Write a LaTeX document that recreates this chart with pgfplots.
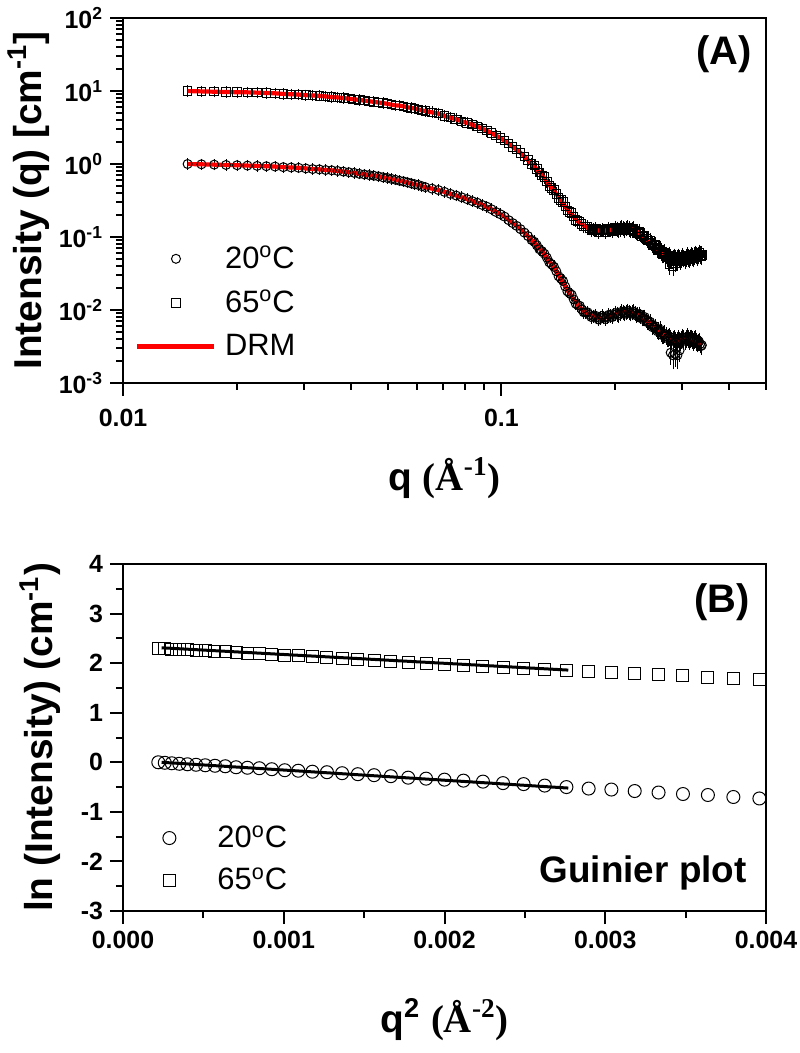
\documentclass[border=0pt]{standalone}
\usepackage{pgfplots}
\usepackage{pgfplotstable}
\pgfplotsset{compat=1.18}
\usepackage{fontspec}
\setmainfont{Liberation Sans}
\newfontfamily\serifb{Liberation Serif}

% SAXS data: q, I(20C), I(65C), relative error
\pgfplotstableread{
q       i20     i65     e
0.01482 1.000   9.974   0.02
0.01612 0.990   9.875   0.02
0.01742 0.980   9.777   0.02
0.01872 0.970   9.679   0.02
0.02002 0.961   9.630   0.02
0.02132 0.951   9.583   0.02
0.02262 0.942   9.488   0.02
0.02392 0.932   9.393   0.02
0.02522 0.923   9.300   0.02
0.02652 0.905   9.116   0.02
0.02782 0.896   9.025   0.02
0.02912 0.887   8.935   0.02
0.03042 0.869   8.758   0.02
0.03172 0.852   8.671   0.02
0.03302 0.844   8.585   0.02
0.03432 0.827   8.415   0.02
0.03562 0.819   8.248   0.02
0.03692 0.803   8.166   0.02
0.03822 0.787   8.004   0.02
0.03952 0.771   7.846   0.02
0.04082 0.756   7.691   0.02
0.04212 0.733   7.538   0.02
0.04342 0.719   7.389   0.02
0.04472 0.705   7.243   0.02
0.04602 0.691   7.099   0.02
0.04732 0.677   6.959   0.02
0.04862 0.657   6.821   0.02
0.04992 0.644   6.686   0.02
0.05122 0.625   6.488   0.02
0.05252 0.607   6.360   0.02
0.05382 0.589   6.297   0.02
0.05512 0.577   6.172   0.02
0.05642 0.560   5.989   0.02
0.05772 0.543   5.871   0.02
0.05902 0.527   5.755   0.02
0.06032 0.517   5.585   0.02
0.06162 0.497   5.419   0.02
0.06292 0.482   5.312   0.02
0.06552 0.460   5.10    0.03
0.06812 0.440   4.90    0.03
0.07072 0.415   4.55    0.03
0.07332 0.390   4.30    0.03
0.07592 0.370   4.10    0.03
0.07852 0.350   3.85    0.03
0.08112 0.330   3.65    0.03
0.08372 0.310   3.45    0.03
0.08632 0.295   3.25    0.03
0.08892 0.275   3.05    0.03
0.09152 0.260   2.85    0.03
0.09412 0.240   2.65    0.03
0.09672 0.220   2.45    0.03
0.09932 0.205   2.28    0.03
0.10192 0.190   2.08    0.03
0.10452 0.170   1.90    0.03
0.10712 0.155   1.72    0.03
0.10972 0.142   1.57    0.03
0.11232 0.128   1.42    0.03
0.11492 0.115   1.27    0.03
0.11752 0.103   1.13    0.03
0.12012 0.091   1.00    0.03
0.12402 0.077   0.85    0.05
0.12792 0.064   0.70    0.05
0.13182 0.052   0.58    0.05
0.13572 0.042   0.47    0.05
0.13962 0.034   0.39    0.05
0.14352 0.027   0.32    0.05
0.14742 0.021   0.26    0.05
0.15132 0.017   0.22    0.05
0.15522 0.0140  0.190   0.05
0.15912 0.0117  0.165   0.05
0.16302 0.0102  0.150   0.05
0.16692 0.0093  0.138   0.05
0.17082 0.0086  0.130   0.05
0.17472 0.0082  0.126   0.05
0.17862 0.0079  0.123   0.05
0.18252 0.0078  0.122   0.05
0.18642 0.0079  0.122   0.05
0.19032 0.0080  0.123   0.05
0.19422 0.0083  0.125   0.05
0.19812 0.0086  0.127   0.05
0.20202 0.0088  0.128   0.08
0.20592 0.0090  0.129   0.08
0.20982 0.0092  0.130   0.08
0.21372 0.0093  0.130   0.08
0.21762 0.0093  0.129   0.08
0.22152 0.0092  0.126   0.08
0.22542 0.0089  0.121   0.08
0.22932 0.0086  0.116   0.08
0.23322 0.0082  0.110   0.08
0.23712 0.0078  0.103   0.08
0.24102 0.0073  0.096   0.08
0.24492 0.0068  0.089   0.08
0.24882 0.0063  0.083   0.08
0.25272 0.0059  0.077   0.08
0.25662 0.0055  0.072   0.08
0.26052 0.0052  0.067   0.12
0.26442 0.0049  0.063   0.12
0.26832 0.0046  0.059   0.12
0.27222 0.0044  0.056   0.12
0.27612 0.0042  0.054   0.12
0.28002 0.0040  0.052   0.12
0.28392 0.0039  0.051   0.12
0.28782 0.0038  0.050   0.12
0.29172 0.0038  0.050   0.12
0.29562 0.0038  0.050   0.12
0.29952 0.0039  0.050   0.12
0.30342 0.0040  0.051   0.12
0.30732 0.0040  0.052   0.12
0.31122 0.0040  0.052   0.12
0.31512 0.0040  0.053   0.12
0.31902 0.0039  0.054   0.12
0.32292 0.0039  0.055   0.12
0.32682 0.0037  0.056   0.12
0.33072 0.0036  0.056   0.12
0.33462 0.0034  0.057   0.12
0.33852 0.0033  0.057   0.12
}\saxs

% further measured points at high q (scattered)
\pgfplotstableread{
q       i20     i65     e
0.12207 0.086   0.95    0.05
0.12597 0.068   0.76    0.05
0.12987 0.059   0.66    0.05
0.13377 0.045   0.50    0.05
0.13767 0.039   0.44    0.05
0.14157 0.029   0.34    0.05
0.14547 0.025   0.30    0.05
0.14937 0.018   0.23    0.05
0.15327 0.0162  0.212   0.05
0.15717 0.0122  0.170   0.05
0.16107 0.0114  0.162   0.05
0.16497 0.0093  0.138   0.05
0.16887 0.0093  0.139   0.05
0.17277 0.0080  0.123   0.05
0.17667 0.0084  0.129   0.05
0.18057 0.0074  0.117   0.05
0.18447 0.0083  0.126   0.05
0.18837 0.0075  0.117   0.05
0.19227 0.0086  0.129   0.05
0.19617 0.0080  0.121   0.05
0.20007 0.0091  0.133   0.08
0.20397 0.0085  0.123   0.08
0.20787 0.0095  0.136   0.08
0.21177 0.0089  0.125   0.08
0.21567 0.0097  0.134   0.08
0.21957 0.0089  0.123   0.08
0.22347 0.0095  0.129   0.08
0.22737 0.0084  0.114   0.08
0.23127 0.0088  0.118   0.08
0.23517 0.0076  0.102   0.08
0.23907 0.0080  0.105   0.08
0.24297 0.0068  0.089   0.08
0.24687 0.0069  0.090   0.08
0.25077 0.0058  0.076   0.08
0.25467 0.0060  0.079   0.08
0.25857 0.0051  0.066   0.08
0.26247 0.0054  0.068   0.12
0.26637 0.0045  0.058   0.12
0.27027 0.0047  0.061   0.12
0.27417 0.0041  0.052   0.12
0.27807 0.0043  0.056   0.12
0.28197 0.0038  0.048   0.12
0.28587 0.0040  0.053   0.12
0.28977 0.0036  0.047   0.12
0.29367 0.0040  0.053   0.12
0.29757 0.0037  0.047   0.12
0.30147 0.0042  0.054   0.12
0.30537 0.0038  0.048   0.12
0.30927 0.0043  0.055   0.12
0.31317 0.0038  0.050   0.12
0.31707 0.0041  0.056   0.12
0.32097 0.0037  0.051   0.12
0.32487 0.0040  0.058   0.12
0.32877 0.0035  0.053   0.12
0.33267 0.0037  0.060   0.12
0.33657 0.0032  0.055   0.12
}\saxsmid

% scattered low points at high q
\pgfplotstableread{
q       i     e
0.2800  0.0026 0.20
0.2839  0.0024 0.25
0.2878  0.0025 0.22
0.2917  0.0024 0.25
0.2956  0.0028 0.20
}\outA
\pgfplotstableread{
q       i     e
0.2780  0.042  0.15
0.2839  0.040  0.15
0.2878  0.044  0.12
}\outB

% Guinier: q^2, ln I(20C), ln I(65C)
\pgfplotstableread{
q2         l20     l65
0.0002196  0.00    2.30
0.0002599  -0.01   2.29
0.0003035  -0.02   2.28
0.0003504  -0.03   2.27
0.0004008  -0.04   2.27
0.0004545  -0.05   2.26
0.0005117  -0.06   2.25
0.0005722  -0.07   2.24
0.0006361  -0.08   2.23
0.0007033  -0.10   2.21
0.0007740  -0.11   2.20
0.0008480  -0.12   2.19
0.0009254  -0.14   2.17
0.0010062  -0.16   2.16
0.0010903  -0.17   2.15
0.0011779  -0.19   2.13
0.0012688  -0.20   2.11
0.0013631  -0.22   2.10
0.0014608  -0.24   2.08
0.0015618  -0.26   2.06
0.0016663  -0.28   2.04
0.0017741  -0.31   2.02
0.0018853  -0.33   2.00
0.0019999  -0.35   1.98
0.0021178  -0.37   1.96
0.0022392  -0.39   1.94
0.0023639  -0.42   1.92
0.0024920  -0.44   1.90
0.0026235  -0.47   1.87
0.0027584  -0.50   1.85
0.0028966  -0.53   1.84
0.0030382  -0.55   1.82
0.0031832  -0.58   1.79
0.0033316  -0.61   1.77
0.0034834  -0.64   1.75
0.0036385  -0.66   1.72
0.0037970  -0.70   1.69
0.0039589  -0.73   1.67
}\guin

\pgfplotsset{
  legimg/.style={legend image code/.code={%
    \path[draw=none,fill=none] (0bp,-1bp) rectangle (38.5bp,1bp);
    \draw[mark repeat=2,mark phase=2,##1] plot coordinates {(0bp,0bp) (19.25bp,0bp) (38.5bp,0bp)};}},
  myaxis/.style={
    scale only axis, width=321.5bp,
    tick align=outside, tick pos=left,
    major tick length=6.5bp, minor tick length=3.5bp,
    axis line style={line width=1bp},
    every tick/.style={line width=1bp, black},
    tick label style={font=\bfseries\fontsize{12.5}{15}\selectfont},
    label style={font=\bfseries\fontsize{19.5}{23}\selectfont},
    legend cell align=left,
  },
  ebars/.style={error bars/.cd, y dir=both, y explicit relative,
    error bar style={line width=0.4bp}, error mark options={mark size=2.5bp, line width=0.4bp}},
}

\begin{document}
\begin{tikzpicture}
\useasboundingbox (-61.5bp,-71bp) rectangle (338.5bp,455.5bp);

\begin{axis}[myaxis,
  at={(0,264bp)}, anchor=south west, height=182.5bp,
  xmode=log, ymode=log,
  xmin=0.01, xmax=0.5, ymin=1e-3, ymax=1e2,
  xtick={0.01,0.1}, xticklabels={0.01,0.1},
  xticklabel style={yshift=-3bp},
  minor xtick={0.02,0.03,0.04,0.05,0.06,0.07,0.08,0.09,0.2,0.3,0.4,0.5},
  ytick={1e-3,1e-2,1e-1,1,10,100},
  yticklabels={10\textsuperscript{-3},10\textsuperscript{-2},10\textsuperscript{-1},10\textsuperscript{0},10\textsuperscript{1},10\textsuperscript{2}},
  minor ytick={2e-3,3e-3,4e-3,5e-3,6e-3,7e-3,8e-3,9e-3,
    2e-2,3e-2,4e-2,5e-2,6e-2,7e-2,8e-2,9e-2,
    0.2,0.3,0.4,0.5,0.6,0.7,0.8,0.9,2,3,4,5,6,7,8,9,
    20,30,40,50,60,70,80,90},
  xlabel={q {\serifb\bfseries(Å\textsuperscript{-1})}},
  ylabel={Intensity (q) [cm\textsuperscript{-1}]},
  xlabel style={at={([yshift=-47.5bp]axis description cs:0.5,0)}, anchor=center},
  ylabel style={at={([xshift=-40.5bp]axis description cs:0,0.5)}, anchor=base},
  legend style={draw=none, fill=none, font=\fontsize{15.5}{18}\selectfont,
    at={([xshift=6bp,yshift=12bp]rel axis cs:0,0)}, anchor=south west,
    row sep=9.5bp, column sep=4.25bp, inner sep=0pt, nodes={inner sep=0pt}},
]
\addplot[only marks, mark=o, mark size=2.25bp, black, mark options={line width=0.5bp}, legimg, ebars]
  table[x=q, y=i20, y error=e] {\saxs};
\addlegendentry{20\textsuperscript{o}C}
\addplot[only marks, mark=square, mark size=2.1bp, black, mark options={line width=0.5bp}, legimg, ebars]
  table[x=q, y=i65, y error=e] {\saxs};
\addlegendentry{65\textsuperscript{o}C}
\addplot[only marks, mark=o, mark size=2.25bp, black, mark options={line width=0.5bp}, forget plot, ebars]
  table[x=q, y=i20, y error=e] {\saxsmid};
\addplot[only marks, mark=square, mark size=2.1bp, black, mark options={line width=0.5bp}, forget plot, ebars]
  table[x=q, y=i65, y error=e] {\saxsmid};
\addplot[only marks, mark=o, mark size=2.25bp, black, mark options={line width=0.5bp}, forget plot, ebars]
  table[x=q, y=i, y error=e] {\outA};
\addplot[only marks, mark=square, mark size=2.1bp, black, mark options={line width=0.5bp}, forget plot, ebars]
  table[x=q, y=i, y error=e] {\outB};
\addplot[red, line width=2.1bp, smooth, no marks, legimg] table[x=q, y=i20] {\saxs};
\addlegendentry{DRM}
\addplot[red, line width=2.1bp, smooth, no marks, forget plot] table[x=q, y=i65] {\saxs};
\node[anchor=north east, inner sep=0pt, font=\bfseries\fontsize{20}{24}\selectfont,
  xshift=-7bp, yshift=-8.5bp] at (rel axis cs:1,1) {(A)};
\end{axis}

\begin{axis}[myaxis,
  at={(0,0)}, anchor=south west, height=173.5bp,
  xmin=0, xmax=0.004, ymin=-3, ymax=4,
  scaled x ticks=false,
  xtick={0,0.001,0.002,0.003,0.004},
  xticklabels={0.000,0.001,0.002,0.003,0.004},
  minor xtick={0.0005,0.0015,0.0025,0.0035},
  ytick={-3,-2,-1,0,1,2,3,4},
  yticklabels={-3,-2,-1,0,1,2,3,4},
  minor ytick={-2.5,-1.5,-0.5,0.5,1.5,2.5,3.5},
  xlabel={q\textsuperscript{2} {\serifb\bfseries(Å\textsuperscript{-2})}},
  ylabel={ln (Intensity) (cm\textsuperscript{-1})},
  xlabel style={at={([yshift=-54.5bp]axis description cs:0.5,0)}, anchor=center},
  ylabel style={at={([xshift=-35bp]axis description cs:0,0.5)}, anchor=base},
  legend style={draw=none, fill=none, font=\fontsize{15.5}{18}\selectfont,
    at={([xshift=3.75bp,yshift=9bp]rel axis cs:0,0)}, anchor=south west,
    row sep=8.5bp, column sep=4.75bp, inner sep=0pt, nodes={inner sep=0pt}},
]
\addplot[only marks, mark=o, mark size=3.25bp, black, mark options={line width=0.5bp}, legimg]
  table[x=q2, y=l20] {\guin};
\addlegendentry{20\textsuperscript{o}C}
\addplot[only marks, mark=square, mark size=3bp, black, mark options={line width=0.5bp}, legimg]
  table[x=q2, y=l65] {\guin};
\addlegendentry{65\textsuperscript{o}C}
\addplot[black, line width=1.5bp, no marks, forget plot] coordinates {(0.00024,0.0) (0.00277,-0.52)};
\addplot[black, line width=1.5bp, no marks, forget plot] coordinates {(0.00024,2.31) (0.00277,1.86)};
\node[anchor=north east, inner sep=0pt, font=\bfseries\fontsize{20}{24}\selectfont,
  xshift=-8bp, yshift=-9.5bp] at (rel axis cs:1,1) {(B)};
\node[anchor=base east, inner sep=0pt, font=\bfseries\fontsize{18.5}{22}\selectfont,
  xshift=-9.5bp, yshift=14.5bp] at (rel axis cs:1,0) {Guinier plot};
\end{axis}
\end{tikzpicture}
\end{document}
